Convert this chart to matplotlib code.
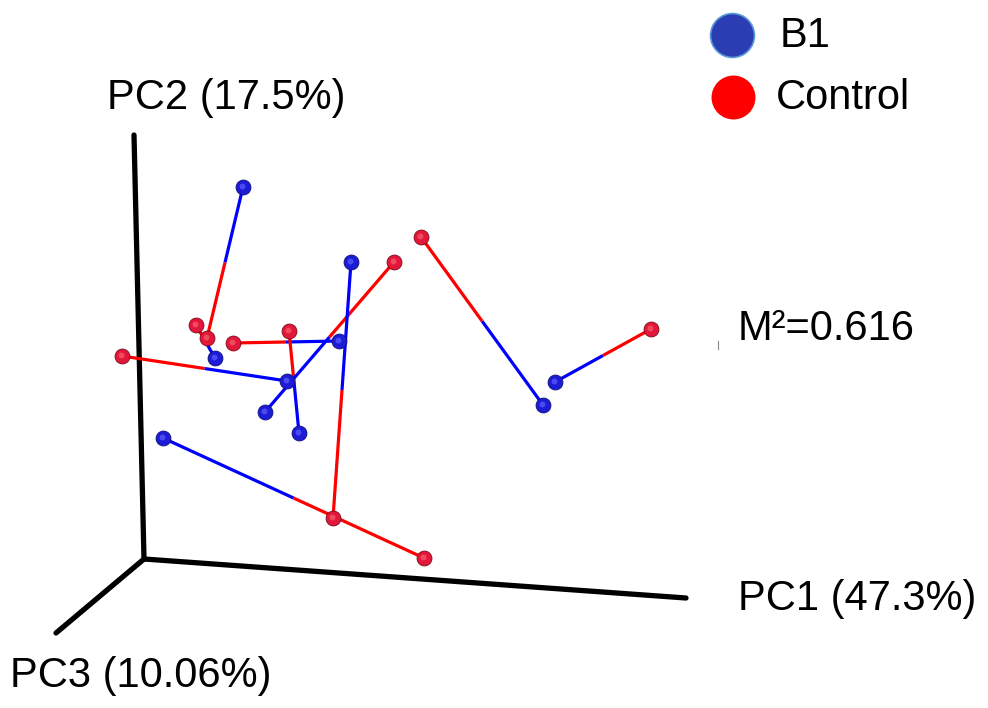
import matplotlib.pyplot as plt
import numpy as np

plt.rcParams['font.family'] = ['Liberation Sans', 'DejaVu Sans']

# projected positions (screen units) of the paired samples
b1_x = [243, 215, 339, 299, 287, 265, 351, 163, 543, 555]
b1_y = [187, 358, 341, 433, 381, 412, 262, 438, 405, 382]
ctrl_x = [207, 196, 233, 289, 122, 394, 333, 424, 421, 651]
ctrl_y = [338, 325, 343, 331, 356, 262, 518, 558, 237, 329]

# projected axis ends
origin = (144, 559)
pc1_end = (686, 598)
pc2_end = (134, 135)
pc3_end = (56, 633)

axis_labels = ["PC1 (47.3%)", "PC2 (17.5%)", "PC3 (10.06%)"]
groups = ["B1", "Control"]
m2_text = "M\u00b2=0.616"

BLUE_LINE = "#0000ff"
RED_LINE = "#ff0000"
BLUE_BALL = "#1c1cd6"
RED_BALL = "#e3173a"
FS = 30

fig = plt.figure(figsize=(9.88, 7.08), dpi=100)
ax = fig.add_axes([0, 0, 1, 1])
ax.set_xlim(0, 988)
ax.set_ylim(708, 0)
ax.axis("off")

# axes of the 3d box
for end in (pc1_end, pc2_end, pc3_end):
    ax.plot([origin[0], end[0]], [origin[1], end[1]], color="black", lw=3.8,
            solid_capstyle="round", zorder=1)

# procrustes segments, each half coloured by its end
bx, by = np.array(b1_x), np.array(b1_y)
cx, cy = np.array(ctrl_x), np.array(ctrl_y)
mx, my = (bx + cx) / 2, (by + cy) / 2
for i in range(len(bx)):
    ax.plot([bx[i], mx[i]], [by[i], my[i]], color=BLUE_LINE, lw=2.3,
            solid_capstyle="butt", zorder=2)
    ax.plot([mx[i], cx[i]], [my[i], cy[i]], color=RED_LINE, lw=2.3,
            solid_capstyle="butt", zorder=2)

ax.scatter(bx, by, s=115, color=BLUE_BALL, edgecolors="#10107a", linewidths=0.6, zorder=3)
ax.scatter(cx, cy, s=115, color=RED_BALL, edgecolors="#7a0a1a", linewidths=0.6, zorder=3)
# little highlights to suggest spheres
ax.scatter(bx - 1.5, by - 1.5, s=18, color="#4a4af0", linewidths=0, zorder=4)
ax.scatter(cx - 1.5, cy - 1.5, s=18, color="#f04a60", linewidths=0, zorder=4)

# axis labels
ax.text(738, 599, axis_labels[0], fontsize=FS, ha="left", va="center")
ax.text(107, 98, axis_labels[1], fontsize=FS, ha="left", va="center")
ax.text(10, 676, axis_labels[2], fontsize=FS, ha="left", va="center")

# M^2 annotation
ax.text(738, 329, m2_text, fontsize=FS, ha="left", va="center")
ax.plot([718, 718], [341, 349], color="#888888", lw=0.8)

# legend
ax.scatter([732], [35], s=1000, color="#2b3db3", edgecolors="#5a9ad8", linewidths=1.2)
ax.scatter([733], [97], s=1000, color="#ff0000", linewidths=0)
ax.text(780, 36, groups[0], fontsize=FS, ha="left", va="center")
ax.text(776, 98, groups[1], fontsize=FS, ha="left", va="center")

fig.savefig("out.png", dpi=100)
